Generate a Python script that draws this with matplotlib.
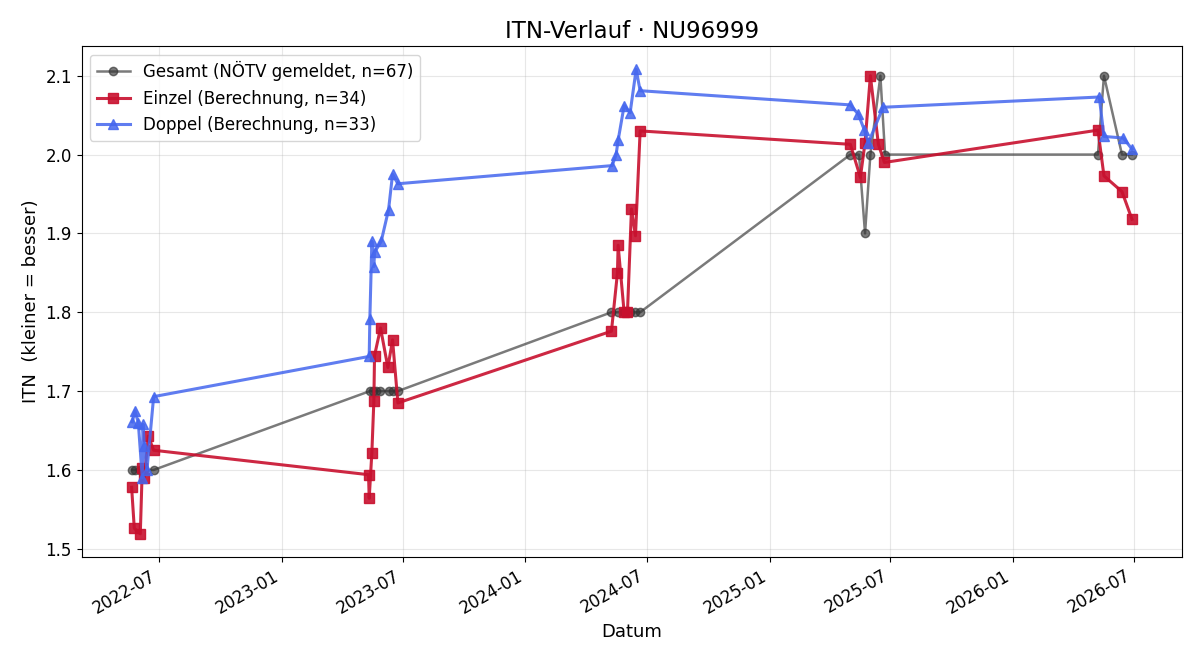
import matplotlib
matplotlib.use("Agg")
import matplotlib.pyplot as plt
import matplotlib.dates as mdates
import pandas as pd

# Gesamt (NÖTV gemeldet)
gesamt_dates = [
    "2022-05-22", "2022-05-26", "2022-06-03", "2022-06-09", "2022-06-23",
    "2023-05-13", "2023-05-17", "2023-05-22", "2023-05-28", "2023-06-10", "2023-06-16", "2023-06-24",
    "2024-05-09", "2024-05-19", "2024-05-28", "2024-06-06", "2024-06-13", "2024-06-21",
    "2025-05-02", "2025-05-15", "2025-05-24", "2025-06-01", "2025-06-16", "2025-06-23",
    "2026-05-08", "2026-05-17", "2026-06-13", "2026-06-28",
]
gesamt_vals = [
    1.6, 1.6, 1.6, 1.6, 1.6,
    1.7, 1.7, 1.7, 1.7, 1.7, 1.7, 1.7,
    1.8, 1.8, 1.8, 1.8, 1.8, 1.8,
    2.0, 2.0, 1.9, 2.0, 2.1, 2.0,
    2.0, 2.1, 2.0, 2.0,
]

# Einzel (Berechnung)
einzel_dates = [
    "2022-05-21", "2022-05-25", "2022-06-03", "2022-06-06", "2022-06-09", "2022-06-15", "2022-06-23",
    "2023-05-11", "2023-05-12", "2023-05-16", "2023-05-19", "2023-05-20", "2023-05-29", "2023-06-09", "2023-06-16", "2023-06-24",
    "2024-05-09", "2024-05-18", "2024-05-19", "2024-05-28", "2024-06-02", "2024-06-08", "2024-06-14", "2024-06-21",
    "2025-05-02", "2025-05-17", "2025-05-24", "2025-06-01", "2025-06-13", "2025-06-22",
    "2026-05-08", "2026-05-17", "2026-06-13", "2026-06-28",
]
einzel_vals = [
    1.578, 1.526, 1.519, 1.603, 1.590, 1.643, 1.625,
    1.594, 1.564, 1.622, 1.688, 1.745, 1.780, 1.730, 1.765, 1.685,
    1.776, 1.850, 1.885, 1.800, 1.800, 1.931, 1.897, 2.030,
    2.013, 1.971, 2.015, 2.100, 2.013, 1.990,
    2.031, 1.973, 1.953, 1.918,
]

# Doppel (Berechnung)
doppel_dates = [
    "2022-05-22", "2022-05-26", "2022-05-31", "2022-06-06", "2022-06-07", "2022-06-09", "2022-06-13", "2022-06-23",
    "2023-05-12", "2023-05-13", "2023-05-16", "2023-05-19", "2023-05-20", "2023-05-30", "2023-06-10", "2023-06-16", "2023-06-24",
    "2024-05-10", "2024-05-16", "2024-05-19", "2024-05-28", "2024-06-06", "2024-06-15", "2024-06-21",
    "2025-05-02", "2025-05-14", "2025-05-23", "2025-05-29", "2025-06-20",
    "2026-05-10", "2026-05-17", "2026-06-15", "2026-06-28",
]
doppel_vals = [
    1.661, 1.675, 1.660, 1.590, 1.658, 1.630, 1.600, 1.693,
    1.744, 1.792, 1.890, 1.858, 1.876, 1.890, 1.930, 1.975, 1.963,
    1.986, 2.000, 2.018, 2.062, 2.053, 2.108, 2.081,
    2.063, 2.051, 2.031, 2.015, 2.060,
    2.073, 2.023, 2.021, 2.007,
]

fig, ax = plt.subplots(figsize=(12, 6.6), dpi=100)
fig.subplots_adjust(left=0.068, right=0.985, top=0.930, bottom=0.156)

ax.plot(pd.to_datetime(gesamt_dates), gesamt_vals, marker="o", color="#333333",
        alpha=0.65, linewidth=1.8, markersize=6, label="Gesamt (NÖTV gemeldet, n=67)")
ax.plot(pd.to_datetime(einzel_dates), einzel_vals, marker="s", color="#c8102e",
        alpha=0.9, linewidth=2.2, markersize=7, label="Einzel (Berechnung, n=34)")
ax.plot(pd.to_datetime(doppel_dates), doppel_vals, marker="^", color="#4466ee",
        alpha=0.85, linewidth=2.2, markersize=7, label="Doppel (Berechnung, n=33)")

ax.set_title("ITN-Verlauf · NU96999", fontsize=16.5)
ax.set_xlabel("Datum", fontsize=13)
ax.set_ylabel("ITN  (kleiner = besser)", fontsize=13)
ax.xaxis.set_major_locator(mdates.MonthLocator(bymonth=[1, 7]))
ax.xaxis.set_major_formatter(mdates.DateFormatter("%Y-%m"))
ax.tick_params(labelsize=12)
for lbl in ax.get_xticklabels():
    lbl.set_rotation(30)
    lbl.set_ha("right")
ax.grid(True, alpha=0.3)
ax.legend(loc="upper left", fontsize=12)

fig.savefig("out.png", dpi=100)
